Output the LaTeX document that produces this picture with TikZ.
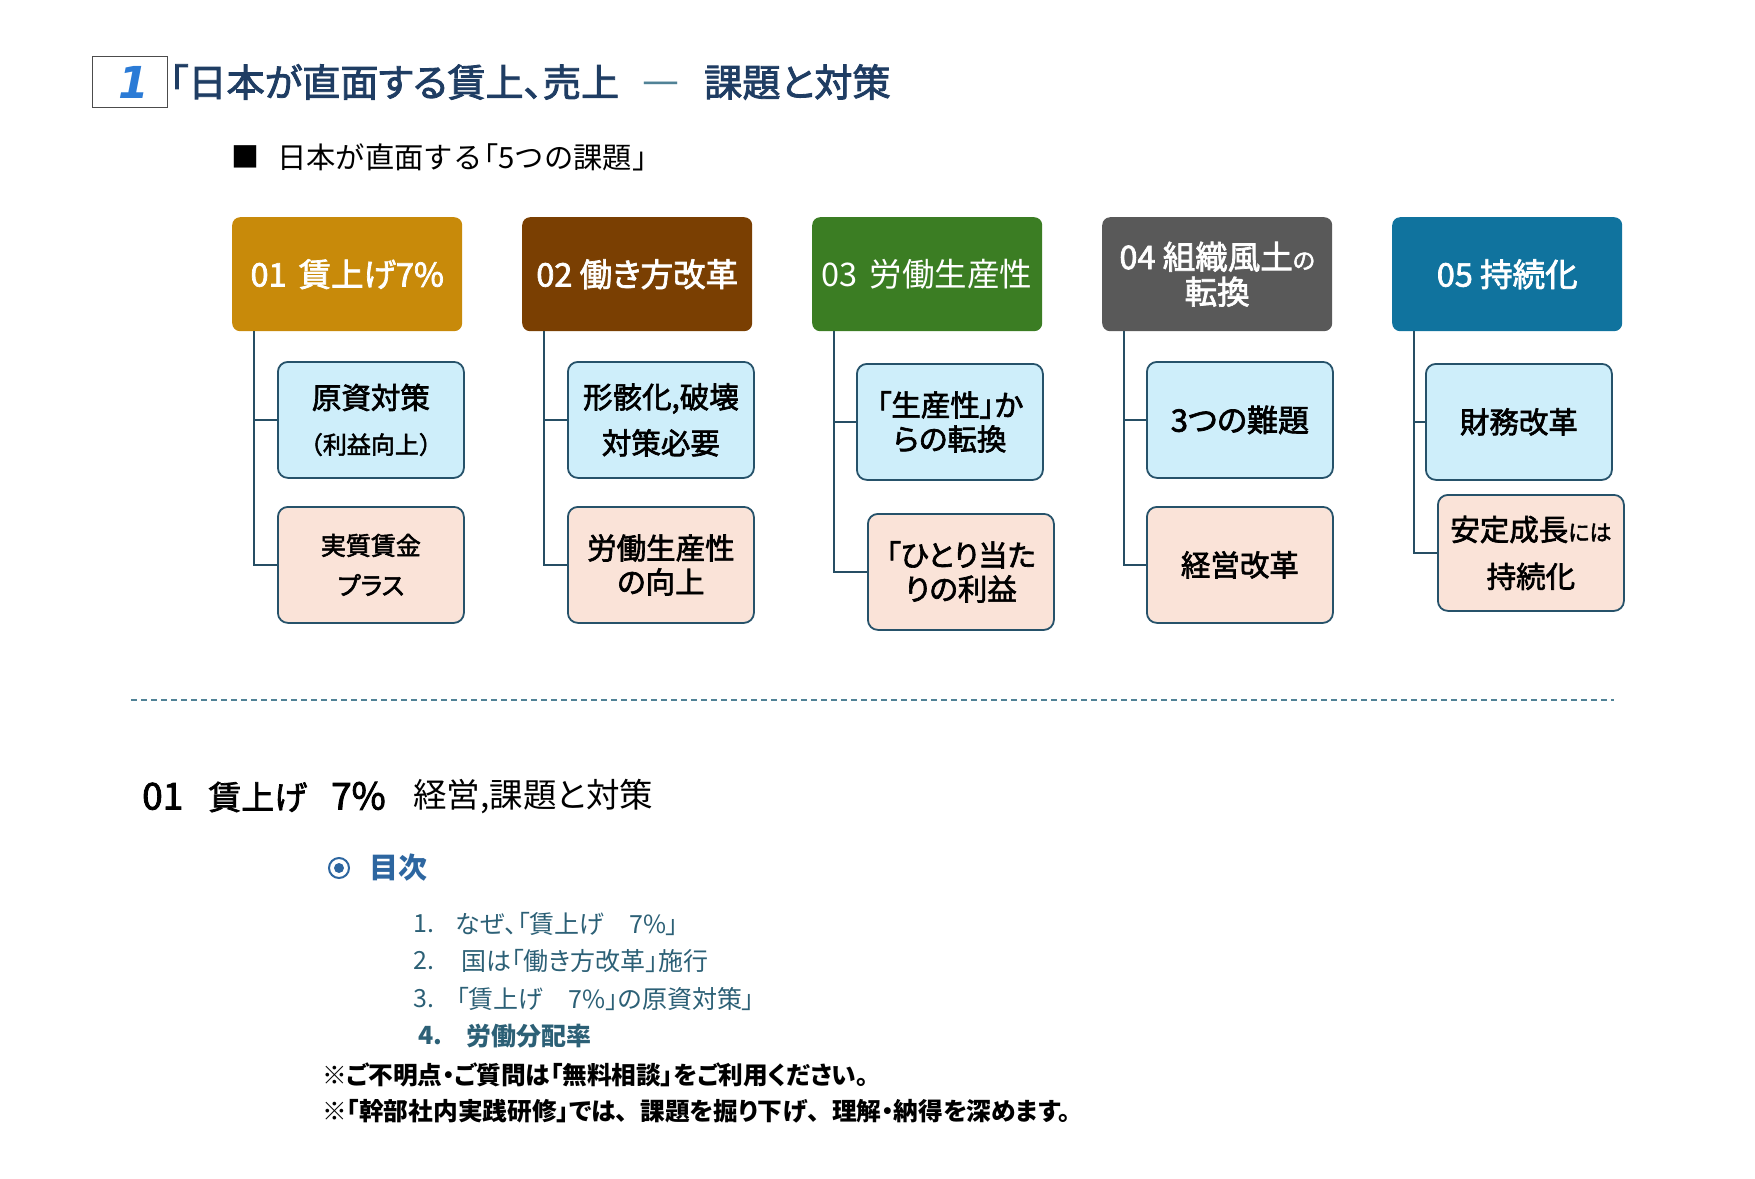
\documentclass[tikz,border=0pt]{standalone}
\usepackage{fontspec}
\setmainfont[RawFeature=+palt]{Noto Sans CJK JP}
\newfontfamily\jpmid[RawFeature=+palt,FakeBold=2.2]{Noto Sans CJK JP}
\newfontfamily\jpmidfull[FakeBold=2.2]{Noto Sans CJK JP}
\newfontfamily\jpfull{Noto Sans CJK JP}
\newfontfamily\numfont{DejaVu Sans}

\definecolor{hgold}{RGB}{200,138,10}
\definecolor{hbrown}{RGB}{122,63,2}
\definecolor{hgreen}{RGB}{59,125,35}
\definecolor{hgray}{RGB}{89,89,89}
\definecolor{hblue}{RGB}{16,115,158}
\definecolor{leafblue}{RGB}{206,238,250}
\definecolor{leafpink}{RGB}{250,227,216}
\definecolor{leafline}{RGB}{38,82,106}
\definecolor{branchline}{RGB}{38,78,100}
\definecolor{titlenavy}{RGB}{31,61,99}
\definecolor{listteal}{RGB}{44,96,118}
\definecolor{tocblue}{RGB}{45,102,160}
\definecolor{sepcol}{RGB}{80,130,150}
\definecolor{numblue}{RGB}{43,123,214}

\tikzset{
  head/.style={anchor=north west, rounded corners=8pt, minimum width=230pt,
    minimum height=114pt, inner sep=0pt, align=center, text=white,
    font=\jpmid\fontsize{32.5}{35}\selectfont},
  leaf/.style={anchor=north west, draw=leafline, line width=1.8pt,
    rounded corners=10pt, minimum width=186pt, minimum height=116pt,
    inner sep=0pt, align=center, font=\jpmid\fontsize{29.5}{34}\selectfont},
  leafa/.style={leaf, fill=leafblue},
  leafb/.style={leaf, fill=leafpink},
  branch/.style={draw=branchline, line width=2pt},
  sepline/.style={draw=sepcol, line width=1.3pt, dash pattern=on 6pt off 4pt},
  listtext/.style={anchor=west, inner sep=0pt, listteal, font=\fontsize{25}{28}\selectfont},
  notetext/.style={anchor=west, inner sep=0pt, font=\bfseries\fontsize{24.7}{28}\selectfont},
}

\begin{document}
\begin{tikzpicture}[x=1pt, y=-1pt]
	\useasboundingbox (0,0) rectangle (1755,1178);
	% title
	\node[draw=black!70, line width=1pt, anchor=north west, minimum width=75pt,
	  minimum height=51pt, inner sep=0pt] (numbox) at (92,56) {};
	\node[numblue, font=\numfont\bfseries\itshape\fontsize{44}{44}\selectfont] (num) at ([xshift=4pt]numbox.center) {1};
	\node[anchor=west, inner sep=0pt, titlenavy, font=\jpmid\fontsize{38.2}{40}\selectfont] (title) at (169,82) {「日本が直面する賃上、売上};
	\node[inner sep=0pt, sepcol, font=\numfont\fontsize{37}{40}\selectfont] (dash) at (661,88) {—};
	\node[anchor=west, inner sep=0pt, titlenavy, font=\jpmid\fontsize{38.2}{40}\selectfont] (title2) at (704,82) {課題と対策};
	\node[inner sep=0pt, font=\fontsize{28}{30}\selectfont] (sq) at (245,157) {■};
	\node[anchor=west, inner sep=0pt, font=\jpfull\fontsize{29.3}{30}\selectfont] (sub) at (277,157) {日本が直面する\kern-13pt「5つの課題」};

	% five headers
	\foreach \i/\col/\txt in {1/hgold/{01\hspace{12pt}賃上げ7\%},
	    2/hbrown/{02 働き方改革},
	    3/hgreen/{\normalfont\fontsize{32.5}{35}\selectfont 03\hspace{12pt}労働生産性},
	    4/hgray/{04 組織風土{\fontsize{23}{26}\selectfont の}\\転換},
	    5/hblue/{05 持続化}} {
		\node[head, fill=\col] (h\i) at ({232+290*(\i-1)},217) {\txt};
	}

	% children
	\node[leafa] (t1) at (277,361) {原資対策\\[11pt]{\jpmidfull\fontsize{24}{28}\selectfont （利益向上）}};
	\node[leafb, font=\jpmid\fontsize{25}{29}\selectfont] (b1) at (277,506) {実質賃金\\[11pt]プラス};
	\node[leafa] (t2) at (567,361) {形骸化,破壊\\[12pt]対策必要};
	\node[leafb] (b2) at (567,506) {労働生産性\\の向上};
	\node[leafa] (t3) at (856,363) {「生産性」か\\らの転換};
	\node[leafb] (b3) at (867,513) {「ひとり当た\\りの利益};
	\node[leafa, font=\jpmid\fontsize{31}{34}\selectfont] (t4) at (1146,361) {3つの難題};
	\node[leafb] (b4) at (1146,506) {経営改革};
	\node[leafa] (t5) at (1425,363) {財務改革};
	\node[leafb] (b5) at (1437,494) {安定成長{\fontsize{22}{26}\selectfont には}\\[13pt]持続化};

	\foreach \i in {1,...,5} {
		\draw[branch] ([xshift=22pt]h\i.south west) |- (t\i.west);
		\draw[branch] ([xshift=22pt]h\i.south west) |- (b\i.west);
	}

	\draw[sepline] (131,700) -- (1614,700);

	% lower part
	\node[anchor=west, inner sep=0pt, font=\jpmid\fontsize{33}{38}\selectfont] (sec) at (142,797)
	  {{\fontsize{37}{38}\selectfont 01}\hspace{25pt}賃上げ\hspace{24pt}{\fontsize{37}{38}\selectfont 7\%}};
	\node[anchor=west, inner sep=0pt, font=\fontsize{33.5}{36}\selectfont] (sec2) at (413,797) {経営,課題と対策};
	\draw[tocblue, line width=2pt] (339,868) circle [radius=10];
	\fill[tocblue] (339,868) circle [radius=5];
	\node[anchor=west, inner sep=0pt, tocblue, font=\bfseries\fontsize{29}{30}\selectfont] (toc) at (369,868) {目次};
	\foreach \n/\txt/\x/\y in {1./{なぜ、「賃上げ　7\%」}/455/924, 2./{国は「働き方改革」施行}/461/961,
	    3./{「賃上げ　7\%」の原資対策」}/456/999} {
		\node[listtext] at (413,\y) {\n};
		\node[listtext] at (\x,\y) {\txt};
	}
	\node[listtext, font=\bfseries\fontsize{25}{28}\selectfont] (n4) at (418,1036) {4.};
	\node[listtext, font=\bfseries\fontsize{25}{28}\selectfont] (i4) at (466,1036) {労働分配率};
	\node[notetext] (note1) at (322,1075) {※ご不明点・ご質問は「無料相談」をご利用ください。};
	\node[notetext] (note2) at (322,1111) {※「幹部社内実践研修」では{\jpfull\bfseries 、}課題を掘り下げ{\jpfull\bfseries 、}理解・納得を深めます。};
\end{tikzpicture}
\end{document}
